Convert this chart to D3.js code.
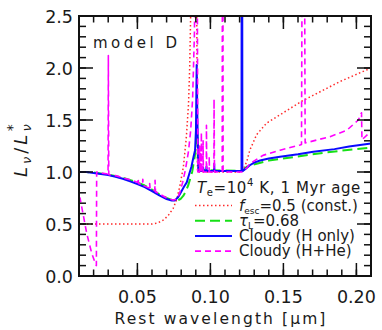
<!DOCTYPE html>
<html>
<head>
<meta charset="utf-8">
<script src="https://cdn.jsdelivr.net/npm/d3@7"></script>
<style>
  body { margin: 0; background: #fff; }
  svg { display: block; }
</style>
</head>
<body>
<script>
// wavelength [um], L/L*
const fescConst = [
  [0.010, 0.50], [0.030, 0.50], [0.050, 0.50], [0.060, 0.50], [0.064, 0.51], [0.068, 0.54],
  [0.071, 0.58], [0.0745, 0.65], [0.077, 0.74], [0.079, 0.86], [0.0815, 1.05], [0.0835, 1.33],
  [0.085, 1.65], [0.0858, 2.0], [0.0866, 2.6], [0.0872, 3.0], [0.0903, 3.0], [0.0906, 2.6],
  [0.0912, 1.0], [0.1216, 1.0], [0.1224, 1.02], [0.1249, 1.10], [0.127, 1.21], [0.1317, 1.36],
  [0.1385, 1.47], [0.1477, 1.55], [0.1625, 1.68], [0.168, 1.72], [0.1888, 1.87], [0.210, 2.0]
];
const tauL = [
  [0.010, 1.0], [0.015, 1.0], [0.020, 0.995], [0.030, 0.975], [0.040, 0.945], [0.050, 0.90],
  [0.055, 0.87], [0.060, 0.83], [0.065, 0.785], [0.070, 0.75], [0.074, 0.73], [0.077, 0.725],
  [0.0795, 0.74], [0.0814, 0.77], [0.083, 0.81], [0.0849, 0.875], [0.0875, 1.0], [0.0893, 1.15],
  [0.0905, 1.30], [0.0911, 1.37], [0.0915, 1.02], [0.1216, 1.01], [0.1235, 1.03], [0.1249, 1.05],
  [0.1317, 1.08], [0.140, 1.11], [0.159, 1.147], [0.180, 1.19], [0.210, 1.235]
];
const cloudyH = [
  [0.010, 1.0], [0.015, 1.0], [0.020, 0.99], [0.025, 0.98], [0.030, 0.97], [0.035, 0.955],
  [0.040, 0.935], [0.045, 0.91], [0.050, 0.885], [0.055, 0.855], [0.060, 0.815], [0.065, 0.775],
  [0.070, 0.74], [0.0735, 0.725], [0.0755, 0.725], [0.078, 0.76], [0.080, 0.81], [0.082, 0.86],
  [0.0838, 0.90], [0.0855, 0.98], [0.087, 1.05], [0.0885, 1.15], [0.0895, 1.21], [0.0901, 1.40],
  [0.0906, 2.03], [0.0911, 1.50], [0.0918, 1.02], [0.0925, 1.01], [0.0949, 1.01], [0.0951, 1.04],
  [0.0953, 1.01], [0.0971, 1.01], [0.0973, 1.05], [0.0975, 1.01], [0.1024, 1.01], [0.1026, 1.08],
  [0.1028, 1.01], [0.1213, 1.01], [0.1214, 3.0], [0.1218, 3.0], [0.1219, 1.01], [0.1222, 1.01],
  [0.124, 1.03], [0.127, 1.065], [0.130, 1.09], [0.134, 1.11], [0.140, 1.13], [0.1477, 1.147],
  [0.160, 1.17], [0.1705, 1.195], [0.185, 1.22], [0.195, 1.245], [0.210, 1.275]
];
const cloudyHHe = [
  [0.010, 0.76], [0.0107, 0.75], [0.0153, 0.41], [0.0187, 0.22], [0.0212, 0.12], [0.0219, 0.10],
  [0.0221, 1.0], [0.025, 0.99], [0.0299, 0.98], [0.0301, 2.12], [0.0304, 0.975], [0.035, 0.965],
  [0.040, 0.945], [0.045, 0.925], [0.0503, 0.90], [0.0505, 0.94], [0.0508, 0.89], [0.0535, 0.875],
  [0.0537, 0.93], [0.054, 0.87], [0.0582, 0.845], [0.0584, 0.89], [0.0587, 0.84], [0.0619, 0.82],
  [0.0621, 0.92], [0.0624, 0.81], [0.065, 0.79], [0.070, 0.75], [0.0745, 0.73], [0.077, 0.74],
  [0.079, 0.80], [0.081, 0.90], [0.083, 1.03], [0.085, 1.20], [0.0865, 1.40], [0.0878, 1.70],
  [0.0890, 2.3], [0.0897, 3.0], [0.0910, 3.0], [0.0914, 1.0], [0.0925, 1.0], [0.0926, 1.25],
  [0.0928, 1.0], [0.0930, 1.0], [0.0931, 1.20], [0.0933, 1.0], [0.0937, 1.0], [0.0938, 1.38],
  [0.0940, 1.0], [0.0949, 1.0], [0.0950, 1.30], [0.0952, 1.0], [0.0972, 1.0], [0.0973, 1.45],
  [0.0975, 1.0], [0.0991, 1.0], [0.0992, 1.15], [0.0994, 1.0], [0.1024, 1.0], [0.1025, 1.70],
  [0.1028, 1.0], [0.1081, 1.0], [0.1082, 3.0], [0.1086, 3.0], [0.1087, 1.0], [0.1216, 1.0],
  [0.1222, 1.01], [0.125, 1.04], [0.127, 1.08], [0.136, 1.16], [0.1477, 1.21], [0.1614, 1.26],
  [0.1624, 1.265], [0.1628, 3.0], [0.1645, 3.0], [0.1649, 1.28], [0.168, 1.29], [0.1819, 1.34],
  [0.1933, 1.40], [0.2013, 1.50], [0.2035, 1.57], [0.2038, 1.31], [0.210, 1.39]
];

const xMajor = [0.05, 0.10, 0.15, 0.20];
const xLabels = ["0.05", "0.10", "0.15", "0.20"];
const xMinor = d3.range(2, 21).map(i => i / 100);
const yMajor = [0, 0.5, 1.0, 1.5, 2.0, 2.5];
const yLabels = ["0.0", "0.5", "1.0", "1.5", "2.0", "2.5"];
const yMinor = d3.range(1, 25).map(i => i / 10);

const FONT = "'DejaVu Sans', sans-serif";
const width = 382, height = 330;
const x = d3.scaleLinear().domain([0.01, 0.21]).range([79, 371]);
const y = d3.scaleLinear().domain([0, 2.5]).range([276, 16]);

const svg = d3.select("body").append("svg")
  .attr("width", width)
  .attr("height", height)
  .attr("font-family", FONT)
  .attr("fill", "#1a1a1a");

svg.append("clipPath").attr("id", "plotclip")
  .append("rect")
  .attr("x", x(0.01)).attr("y", y(2.5))
  .attr("width", x(0.21) - x(0.01)).attr("height", y(0) - y(2.5));

const line = d3.line().x(d => x(d[0])).y(d => y(d[1]));

const series = [
  { data: fescConst, color: "#ff2a2a", width: 1.5, dash: "1.5,2.5" },
  { data: tauL, color: "#16e016", width: 2, dash: "10,5" },
  { data: cloudyH, color: "#0a0aff", width: 2, dash: null },
  { data: cloudyHHe, color: "#ff00ff", width: 1.6, dash: "6,4" }
];

const plot = svg.append("g").attr("clip-path", "url(#plotclip)");
plot.selectAll("path")
  .data(series)
  .join("path")
  .attr("d", d => line(d.data))
  .attr("fill", "none")
  .attr("stroke", d => d.color)
  .attr("stroke-width", d => d.width)
  .attr("stroke-dasharray", d => d.dash)
  .attr("stroke-linejoin", "round");

// ticks on all four sides, pointing inward
const axes = svg.append("g").attr("stroke", "#111").attr("stroke-width", 1.5);
const tickSets = [
  { vals: xMajor, len: 13, dir: "x" }, { vals: xMinor, len: 6.5, dir: "x" },
  { vals: yMajor, len: 14, dir: "y" }, { vals: yMinor, len: 7, dir: "y" }
];
tickSets.forEach(t => {
  t.vals.forEach(v => {
    if (t.dir === "x") {
      axes.append("line").attr("x1", x(v)).attr("x2", x(v)).attr("y1", y(0)).attr("y2", y(0) - t.len);
      axes.append("line").attr("x1", x(v)).attr("x2", x(v)).attr("y1", y(2.5)).attr("y2", y(2.5) + t.len);
    } else {
      axes.append("line").attr("y1", y(v)).attr("y2", y(v)).attr("x1", x(0.01)).attr("x2", x(0.01) + t.len);
      axes.append("line").attr("y1", y(v)).attr("y2", y(v)).attr("x1", x(0.21)).attr("x2", x(0.21) - t.len);
    }
  });
});
axes.append("rect")
  .attr("x", x(0.01)).attr("y", y(2.5))
  .attr("width", x(0.21) - x(0.01)).attr("height", y(0) - y(2.5))
  .attr("fill", "none").attr("stroke-width", 2);

svg.append("g").selectAll("text")
  .data(xMajor)
  .join("text")
  .attr("x", d => x(d)).attr("y", 303)
  .attr("text-anchor", "middle")
  .attr("font-size", 17.5)
  .text((d, i) => xLabels[i]);

svg.append("g").selectAll("text")
  .data(yMajor)
  .join("text")
  .attr("x", 73).attr("y", d => y(d) + 6.5)
  .attr("text-anchor", "end")
  .attr("font-size", 17.5)
  .text((d, i) => yLabels[i]);

// axis titles
svg.append("text")
  .attr("x", 221).attr("y", 324)
  .attr("text-anchor", "middle")
  .attr("font-size", 15.5).attr("letter-spacing", 2.1)
  .text("Rest wavelength [\u03bcm]");

const yt = svg.append("text")
  .attr("transform", "translate(27,177) rotate(-90)")
  .attr("font-size", 18).attr("letter-spacing", 3);
yt.append("tspan").attr("font-style", "italic").text("L");
yt.append("tspan").attr("font-style", "italic").attr("font-size", 13).attr("dy", 4).text("\u03bd");
yt.append("tspan").attr("dy", -4).text("/");
yt.append("tspan").attr("font-style", "italic").text("L");
yt.append("tspan").attr("font-style", "italic").attr("font-size", 13).attr("dy", 4).text("\u03bd");
yt.append("tspan").attr("font-size", 14).attr("dx", -10).attr("dy", -14).text("*");

svg.append("text")
  .attr("x", 93).attr("y", 48)
  .attr("font-size", 15).attr("letter-spacing", 3.5)
  .text("model D");

// legend
const lg = svg.append("g");
const title = lg.append("text").attr("x", 197).attr("y", 193)
  .attr("font-size", 15).attr("letter-spacing", 0.6);
title.append("tspan").attr("font-style", "italic").text("T");
title.append("tspan").attr("font-size", 10).attr("dy", 3).text("e");
title.append("tspan").attr("dy", -3).text("=10");
title.append("tspan").attr("font-size", 10).attr("dy", -7).text("4");
title.append("tspan").attr("dy", 7).text(" K, 1 Myr age");

series.forEach((s, i) => {
  const ly = 205.5 + i * 15.2;
  lg.append("line")
    .attr("x1", 195).attr("x2", 232).attr("y1", ly).attr("y2", ly)
    .attr("stroke", s.color).attr("stroke-width", s.width)
    .attr("stroke-dasharray", s.dash);
  const t = lg.append("text").attr("x", 239).attr("y", ly + 5)
    .attr("font-size", 15);
  if (i === 0) {
    t.append("tspan").attr("font-style", "italic").text("f");
    t.append("tspan").attr("font-size", 9).attr("dy", 3).text("esc");
    t.append("tspan").attr("dy", -3).text("=0.5 (const.)");
  } else if (i === 1) {
    t.append("tspan").attr("font-style", "italic").text("\u03c4");
    t.append("tspan").attr("font-size", 9).attr("dy", 3).text("L");
    t.append("tspan").attr("dy", -3).text("=0.68");
  } else if (i === 2) {
    t.text("Cloudy (H only)");
  } else {
    t.text("Cloudy (H+He)");
  }
});
</script>
</body>
</html>
